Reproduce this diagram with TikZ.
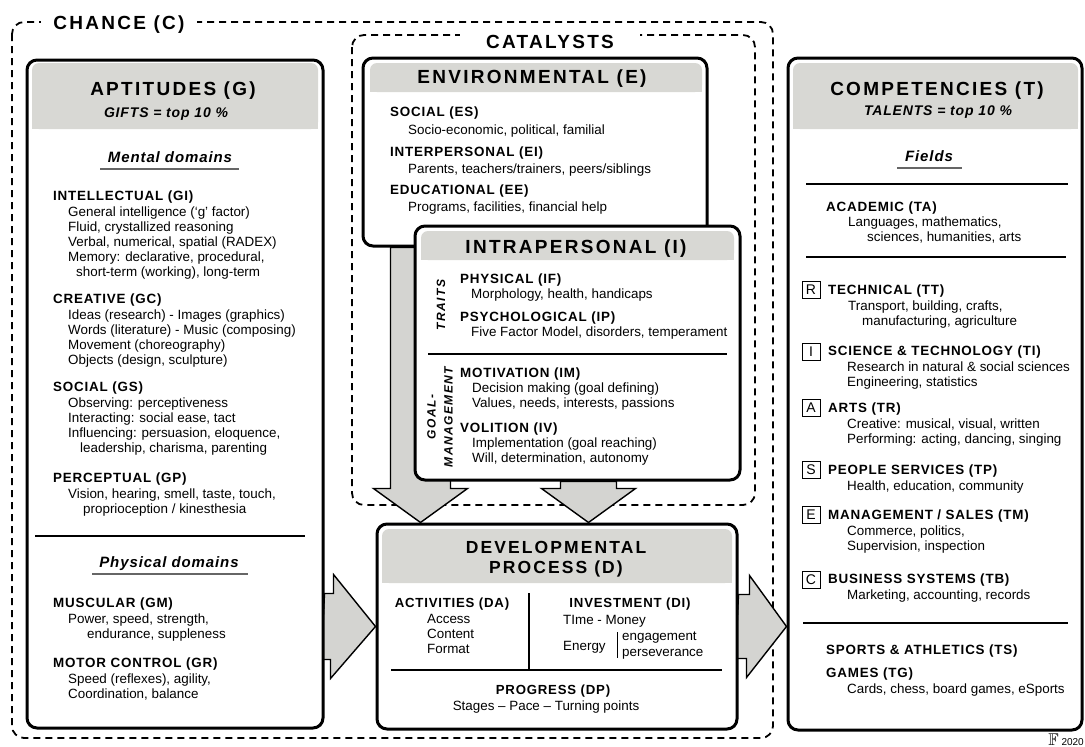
\documentclass[tikz,border=0pt]{standalone}
\usepackage{fontspec}
\usepackage{amssymb}
\usetikzlibrary{calc}
\setmainfont{Liberation Sans}
\newfontfamily\headfont[LetterSpace=6]{Liberation Sans}
\newfontfamily\titlefont[LetterSpace=12]{Liberation Sans}
\definecolor{headgray}{RGB}{216,216,212}
\definecolor{arrowgray}{RGB}{212,212,209}
\pgfdeclarelayer{back}
\pgfsetlayers{back,main}
\newcommand{\hd}[1]{{\headfont\bfseries #1}}
\newcommand{\ind}[1]{\hspace*{#1pt}}

\begin{document}
\begin{tikzpicture}[x=1pt, y=-1pt,
    box/.style={draw, line width=3pt, rounded corners=10pt, fill=white, inner sep=0pt},
    dashbox/.style={line width=1.8pt, dash pattern=on 7pt off 5pt, rounded corners=12pt},
    blockarrow/.style={draw, fill=arrowgray, line width=1.4pt, line join=miter},
    boxtitle/.style={anchor=base, inner sep=0pt, font=\fontsize{19}{22}\selectfont\titlefont\bfseries},
    boxsub/.style={anchor=base, inner sep=0pt, font=\fontsize{14}{16}\selectfont\headfont\bfseries\itshape},
    domainhead/.style={anchor=base, inner sep=0pt, font=\fontsize{15}{17}\selectfont\headfont\bfseries\itshape},
    txt/.style={anchor=north west, align=left, inner sep=0pt, font=\fontsize{13.4}{15}\selectfont},
    txtline/.style={anchor=base west, inner sep=0pt, font=\fontsize{13.4}{15}\selectfont},
    subhead/.style={anchor=base, inner sep=0pt, font=\fontsize{13.2}{15}\selectfont\headfont\bfseries},
    sidelabel/.style={rotate=90, align=center, inner sep=0pt, font=\fontsize{12}{17}\selectfont\titlefont\bfseries\itshape},
    letterbox/.style={draw, line width=0.8pt, minimum width=18pt, minimum height=17pt, inner sep=0pt, font=\fontsize{14}{14}\selectfont},
    rulel/.style={line width=1.6pt},
    uline/.style={line width=2.2pt, black!60}]
  \useasboundingbox (0,0) rectangle (1085,747);
  % chance and catalysts frames
  \begin{pgfonlayer}{back}
    \draw[dashbox] (12,22) rectangle (773,738);
    \draw[dashbox] (352,35) rectangle (755,505);
  \end{pgfonlayer}
  \node[boxtitle, fill=white, inner xsep=12pt, inner ysep=4pt] (chance) at (119,29) {CHANCE (C)};
  \node[boxtitle, fill=white, inner xsep=26pt, inner ysep=4pt] (catal) at (550,48) {CATALYSTS};

  % aptitudes box
  \node[box, minimum width=296pt, minimum height=668pt] (apt) at (175,394) {};
  \fill[headgray, rounded corners=7pt] (32,63) rectangle (318,129);
  \fill[headgray] (32,100) rectangle (318,129);
  \node[boxtitle] (aptt) at (173,95) {APTITUDES (G)};
  \node[boxsub] (gifts) at (166,117) {GIFTS = top 10 \%};
  \node[domainhead] (mental) at (170,162) {Mental domains};
  \draw[uline] (100,169) -- (239,169);
  \node[txt] (gi) at (53,191) {\hd{INTELLECTUAL (GI)}\\[1pt]
    \ind{15}General intelligence (`g' factor)\\
    \ind{15}Fluid, crystallized reasoning\\
    \ind{15}Verbal, numerical, spatial (RADEX)\\
    \ind{15}Memory: declarative, procedural,\\
    \ind{23}short-term (working), long-term};
  \node[txt] (gc) at (53,294) {\hd{CREATIVE (GC)}\\[1pt]
    \ind{15}Ideas (research) - Images (graphics)\\
    \ind{15}Words (literature) - Music (composing)\\
    \ind{15}Movement (choreography)\\
    \ind{15}Objects (design, sculpture)};
  \node[txt] (gs) at (53,382) {\hd{SOCIAL (GS)}\\[1pt]
    \ind{15}Observing: perceptiveness\\
    \ind{15}Interacting: social ease, tact\\
    \ind{15}Influencing: persuasion, eloquence,\\
    \ind{27}leadership, charisma, parenting};
  \node[txt] (gp) at (53,473) {\hd{PERCEPTUAL (GP)}\\[1pt]
    \ind{15}Vision, hearing, smell, taste, touch,\\
    \ind{30}proprioception / kinesthesia};
  \draw[rulel] (35,536) -- (305,536);
  \node[domainhead] (physical) at (169,567) {Physical domains};
  \draw[uline] (92,574) -- (248,574);
  \node[txt] (gm) at (53,598) {\hd{MUSCULAR (GM)}\\[1pt]
    \ind{15}Power, speed, strength,\\
    \ind{34}endurance, suppleness};
  \node[txt] (gr) at (53,658) {\hd{MOTOR CONTROL (GR)}\\[1pt]
    \ind{15}Speed (reflexes), agility,\\
    \ind{15}Coordination, balance};

  % environmental box
  \node[box, minimum width=344pt, minimum height=188pt] (env) at (535,152) {};
  \fill[headgray, rounded corners=7pt] (370,63) rectangle (702,92);
  \fill[headgray] (370,80) rectangle (702,92);
  \node[boxtitle] (envt) at (532,83) {ENVIRONMENTAL (E)};
  \node[txt] (es) at (390,107) {\hd{SOCIAL (ES)}\\[3pt]
    \ind{18}Socio-economic, political, familial};
  \node[txt] (ei) at (390,147) {\hd{INTERPERSONAL (EI)}\\[2pt]
    \ind{18}Parents, teachers/trainers, peers/siblings};
  \node[txt] (ee) at (390,185) {\hd{EDUCATIONAL (EE)}\\[2pt]
    \ind{18}Programs, facilities, financial help};

  % intrapersonal box
  \node[box, minimum width=325pt, minimum height=254pt] (intra) at (577.5,353) {};
  \fill[headgray, rounded corners=7pt] (421,231) rectangle (734,260);
  \fill[headgray] (421,248) rectangle (734,260);
  \node[boxtitle] (intrat) at (576,253) {INTRAPERSONAL (I)};
  \node[sidelabel] (traits) at (441,305) {TRAITS};
  \node[txt] (if) at (460,274) {\hd{PHYSICAL (IF)}\\
    \ind{11}Morphology, health, handicaps};
  \node[txt] (ip) at (460,312) {\hd{PSYCHOLOGICAL (IP)}\\
    \ind{11}Five Factor Model, disorders, temperament};
  \draw[rulel] (428,354) -- (727,354);
  \node[sidelabel] (goal) at (440,417) {GOAL-\\MANAGEMENT};
  \node[txt] (im) at (460,368) {\hd{MOTIVATION (IM)}\\
    \ind{12}Decision making (goal defining)\\
    \ind{12}Values, needs, interests, passions};
  \node[txt] (iv) at (460,423) {\hd{VOLITION (IV)}\\
    \ind{12}Implementation (goal reaching)\\
    \ind{12}Will, determination, autonomy};

  % developmental process box
  \node[box, minimum width=360pt, minimum height=205pt] (dev) at (557,626.5) {};
  \fill[headgray, rounded corners=7pt] (382,529) rectangle (732,583);
  \fill[headgray] (382,560) rectangle (732,583);
  \node[boxtitle, font=\fontsize{17.5}{20}\selectfont\titlefont\bfseries] (devt) at (556,553) {DEVELOPMENTAL};
  \node[boxtitle, font=\fontsize{17.5}{20}\selectfont\titlefont\bfseries] (devp) at (556,573) {PROCESS (D)};
  \node[subhead] (da) at (452,607) {ACTIVITIES (DA)};
  \node[txt] (dalist) at (427,614) {Access\\Content\\Format};
  \draw[rulel] (529,593) -- (529,669);
  \node[subhead] (di) at (630,607) {INVESTMENT (DI)};
  \node[txtline] (time) at (563,624) {TIme - Money};
  \node[txtline] (energy) at (563,650) {Energy};
  \draw[line width=1pt] (617,632) -- (617,658);
  \node[txtline] (engage) at (622,640) {engagement};
  \node[txtline] (persev) at (622,656) {perseverance};
  \draw[rulel] (391,670) -- (722,670);
  \node[subhead] (dp) at (553,694) {PROGRESS (DP)};
  \node[txtline, anchor=base] (stages) at (546,710) {Stages -- Pace -- Turning points};

  % competencies box
  \node[box, minimum width=294pt, minimum height=672pt] (comp) at (935,394) {};
  \fill[headgray, rounded corners=7pt] (793,63) rectangle (1078,129);
  \fill[headgray] (793,100) rectangle (1078,129);
  \node[boxtitle] (compt) at (937,95) {COMPETENCIES (T)};
  \node[boxsub] (talents) at (938,115) {TALENTS = top 10 \%};
  \node[domainhead] (fields) at (929,161) {Fields};
  \draw[uline] (897,168) -- (962,168);
  \draw[rulel] (806,184) -- (1068,184);
  \node[txt] (ta) at (826,202) {\hd{ACADEMIC (TA)}\\
    \ind{22}Languages, mathematics,\\
    \ind{41}sciences, humanities, arts};
  \draw[rulel] (806,257) -- (1066,257);
  \foreach \l/\y in {R/290, I/352, A/408, S/470, E/515, C/580}
  {
    \node[letterbox] (box\l) at (811,\y) {\l};
  }
  \node[txt] (tt) at (828,285) {\hd{TECHNICAL (TT)}\\[1pt]
    \ind{20}Transport, building, crafts,\\
    \ind{34}manufacturing, agriculture};
  \node[txt] (ti) at (828,346) {\hd{SCIENCE \& TECHNOLOGY (TI)}\\[1pt]
    \ind{19}Research in natural \& social sciences\\
    \ind{19}Engineering, statistics};
  \node[txt] (tr) at (828,403) {\hd{ARTS (TR)}\\[1pt]
    \ind{19}Creative: musical, visual, written\\
    \ind{19}Performing: acting, dancing, singing};
  \node[txt] (tp) at (828,465) {\hd{PEOPLE SERVICES (TP)}\\[1pt]
    \ind{19}Health, education, community};
  \node[txt] (tm) at (828,510) {\hd{MANAGEMENT / SALES (TM)}\\[1pt]
    \ind{19}Commerce, politics,\\
    \ind{19}Supervision, inspection};
  \node[txt] (tb) at (828,574) {\hd{BUSINESS SYSTEMS (TB)}\\[1pt]
    \ind{19}Marketing, accounting, records};
  \draw[rulel] (803,623) -- (1068,623);
  \node[txt] (ts) at (826,645) {\hd{SPORTS \& ATHLETICS (TS)}};
  \node[txt] (tg) at (826,668) {\hd{GAMES (TG)}\\[1pt]
    \ind{21}Cards, chess, board games, eSports};

  % block arrows
  \coordinate (la) at (apt.east |- dev.west);
  \coordinate (tipa) at ($(dev.north west)+(45,0)$);
  \coordinate (tipb) at ($(dev.north west)+(213,0)$);
  \begin{pgfonlayer}{back}
    \draw[blockarrow] (la) ++(0,-33) -- ++(9,0) -- ++(0,-19) -- (dev.west)
      -- ++(-45,52) -- ++(0,-19) -- ++(-9,0) -- cycle;
    \draw[blockarrow] (dev.east) ++(0,-32) -- ++(11,0) -- ++(0,-19) -- (comp.west |- dev.east)
      -- ++(-40,51) -- ++(0,-19) -- ++(-11,0) -- cycle;
    \draw[blockarrow] (tipa) -- ++(-47,-34) -- ++(17,0) -- ($(tipa |- env.south)+(-30,0)$)
      -- ++(60,0) -- ($(tipa)+(30,-34)$) -- ++(17,0) -- cycle;
    \draw[blockarrow] (tipb) -- ++(-47,-34) -- ++(19,0) -- ($(tipb |- intra.south)+(-28,0)$)
      -- ++(56,0) -- ($(tipb)+(28,-34)$) -- ++(19,0) -- cycle;
  \end{pgfonlayer}

  % mark
  \node[anchor=base east, inner sep=0pt, font=\fontsize{17}{17}\selectfont] (mark) at (1084,745)
    {$\mathbb{F}$\,{\fontsize{10}{10}\selectfont 2020}};
\end{tikzpicture}
\end{document}
